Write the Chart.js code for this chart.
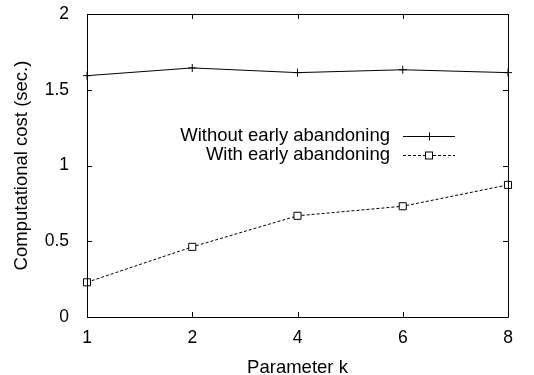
<!DOCTYPE html>
<html>
<head>
<meta charset="utf-8">
<script src="https://cdn.jsdelivr.net/npm/chart.js@4.4.0/dist/chart.umd.min.js"></script>
<style>
  html, body { margin: 0; padding: 0; background: #fff; }
  #wrap { width: 534px; height: 375px; }
</style>
</head>
<body>
<div id="wrap"><canvas id="costChart" width="534" height="375"></canvas></div>
<script>
// Values
const kValues = ['1', '2', '4', '6', '8'];
const withoutEarly = [1.593, 1.644, 1.613, 1.632, 1.613];
const withEarly = [0.229, 0.463, 0.668, 0.731, 0.872];
const yTicks = [0, 0.5, 1, 1.5, 2];

const FONT = 'Liberation Sans, Arial, Helvetica, sans-serif';

// gnuplot-like frame: box around plot, inward ticks on all four sides, legend inside
const framePlugin = {
    id: 'frame',
    afterDraw(chart) {
        const ctx = chart.ctx;
        const area = chart.chartArea;
        const xs = chart.scales.x;
        const ys = chart.scales.y;
        const tick = 5;
        ctx.save();
        ctx.strokeStyle = '#000';
        ctx.lineWidth = 1;
        ctx.beginPath();
        ctx.rect(Math.round(area.left) + 0.5, Math.round(area.top) + 0.5,
            Math.round(area.right - area.left), Math.round(area.bottom - area.top));
        // x ticks
        kValues.forEach((k, i) => {
            const px = Math.round(xs.getPixelForValue(i)) + 0.5;
            ctx.moveTo(px, area.bottom);
            ctx.lineTo(px, area.bottom - tick);
            ctx.moveTo(px, area.top);
            ctx.lineTo(px, area.top + tick);
        });
        // y ticks
        yTicks.forEach(v => {
            const py = Math.round(ys.getPixelForValue(v)) + 0.5;
            ctx.moveTo(area.left, py);
            ctx.lineTo(area.left + tick, py);
            ctx.moveTo(area.right, py);
            ctx.lineTo(area.right - tick, py);
        });
        ctx.stroke();

        // legend
        const textRight = 390;
        const lineL = 403, lineR = 455, mid = 429;
        const rows = [136, 155];
        ctx.font = '18.5px ' + FONT;
        ctx.fillStyle = '#000';
        ctx.textAlign = 'right';
        ctx.textBaseline = 'middle';
        chart.data.datasets.forEach((ds, i) => {
            const y = rows[i] + 0.5;
            ctx.fillText(ds.label, textRight, rows[i]);
            ctx.setLineDash(ds.borderDash || []);
            ctx.beginPath();
            ctx.moveTo(lineL, y);
            ctx.lineTo(lineR, y);
            ctx.stroke();
            ctx.setLineDash([]);
            ctx.beginPath();
            if (ds.pointStyle === 'cross') {
                ctx.moveTo(mid - 4, y);
                ctx.lineTo(mid + 4, y);
                ctx.moveTo(mid + 0.5, y - 4);
                ctx.lineTo(mid + 0.5, y + 4);
                ctx.stroke();
            } else {
                ctx.fillStyle = '#fff';
                ctx.fillRect(mid - 3.5, y - 3.5, 7, 7);
                ctx.strokeRect(mid - 3.5, y - 3.5, 7, 7);
                ctx.fillStyle = '#000';
            }
        });
        ctx.restore();
    }
};

const ctx = document.getElementById('costChart').getContext('2d');
const chart = new Chart(ctx, {
    type: 'line',
    data: {
        labels: kValues,
        datasets: [
            {
                label: 'Without early abandoning',
                data: withoutEarly,
                borderColor: '#000',
                borderWidth: 1,
                pointStyle: 'cross',
                pointRadius: 4,
                pointBorderColor: '#000',
                pointBorderWidth: 1,
                tension: 0
            },
            {
                label: 'With early abandoning',
                data: withEarly,
                borderColor: '#000',
                borderWidth: 1,
                borderDash: [3, 2],
                pointStyle: 'rect',
                pointRadius: 5,
                pointBackgroundColor: '#fff',
                pointBorderColor: '#000',
                pointBorderWidth: 1,
                tension: 0
            }
        ]
    },
    options: {
        responsive: false,
        animation: false,
        layout: { padding: { top: 0, right: 26, left: 0, bottom: 0 } },
        plugins: {
            legend: { display: false },
            tooltip: { enabled: false }
        },
        scales: {
            x: {
                type: 'category',
                offset: false,
                grid: { display: false },
                border: { display: false },
                ticks: {
                    color: '#000',
                    font: { family: FONT, size: 17.5 },
                    padding: 3,
                    maxRotation: 0
                },
                title: {
                    display: true,
                    text: 'Parameter k',
                    color: '#000',
                    font: { family: FONT, size: 18.5 },
                    padding: { top: 4, bottom: -4 }
                },
                afterFit(scale) { scale.height = 58; }
            },
            y: {
                min: 0,
                max: 2,
                grid: { display: false },
                border: { display: false },
                afterBuildTicks(scale) {
                    scale.ticks = yTicks.map(v => ({ value: v }));
                },
                ticks: {
                    color: '#000',
                    font: { family: FONT, size: 17.5 },
                    padding: 10,
                    callback: v => String(v)
                },
                title: {
                    display: true,
                    text: 'Computational cost (sec.)',
                    color: '#000',
                    font: { family: FONT, size: 18.5 },
                    padding: { top: 11, bottom: 0 }
                },
                afterFit(scale) {
                    scale.width = 87;
                    scale.paddingTop = 14;
                    scale.paddingBottom = 0;
                }
            }
        }
    },
    plugins: [framePlugin]
});
</script>
</body>
</html>
